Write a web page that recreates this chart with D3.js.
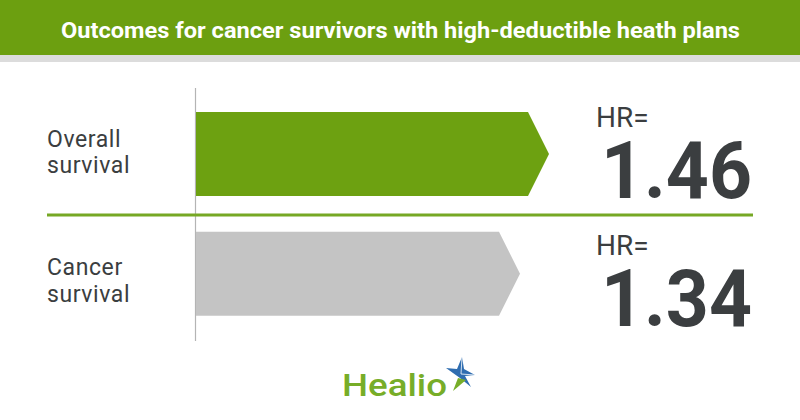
<!DOCTYPE html>
<html>
<head>
<meta charset="utf-8">
<script src="https://cdn.jsdelivr.net/npm/d3@7"></script>
<style>
  html, body { margin: 0; padding: 0; background: #fff; }
  svg { display: block; }
</style>
</head>
<body>
<div id="chart"></div>
<script>
// Chart data
const categories = ["Overall survival", "Cancer survival"];
const labelLines = [["Overall", "survival"], ["Cancer", "survival"]];
const hrValues = [1.46, 1.34];
const hrLabels = ["1.46", "1.34"];
const barColors = ["#6da111", "#c4c4c4"];

const W = 800, H = 420;
const svg = d3.select("#chart").append("svg")
  .attr("width", W)
  .attr("height", H);

// Header band
svg.append("rect").attr("x", 0).attr("y", 0).attr("width", W).attr("height", 55)
  .attr("fill", "#6c9f10");
svg.append("rect").attr("x", 0).attr("y", 55).attr("width", W).attr("height", 7)
  .attr("fill", "#dcdcdc");
svg.append("text")
  .attr("x", 61).attr("y", 37.5)
  .attr("textLength", 679).attr("lengthAdjust", "spacingAndGlyphs")
  .attr("font-family", "Roboto, sans-serif")
  .attr("font-weight", "bold")
  .attr("font-size", 21.5)
  .attr("fill", "#fff")
  .text("Outcomes for cancer survivors with high-deductible heath plans");

// Scales
const x = d3.scaleLinear().domain([0, 1.46]).range([196, 549]);
const y = d3.scaleBand().domain(categories).range([94.04, 333.64]).paddingInner(0.298).paddingOuter(0.15);
// text rows sit slightly offset from the bars
const row = d3.scalePoint().domain(categories).range([0, 128.5]);
const tip = 21;

// Vertical baseline
svg.append("line")
  .attr("x1", x(0) - 0.5).attr("x2", x(0) - 0.5)
  .attr("y1", 88).attr("y2", 341)
  .attr("stroke", "#b4b4b4").attr("stroke-width", 1.2);

// Arrow bars
svg.selectAll(".bar").data(categories).join("path")
  .attr("class", "bar")
  .attr("fill", (d, i) => barColors[i])
  .attr("d", (d, i) => {
    const x0 = x(0), x1 = x(hrValues[i]), y0 = y(d), h = y.bandwidth();
    return `M${x0},${y0}L${x1 - tip},${y0}L${x1},${y0 + h / 2}L${x1 - tip},${y0 + h}L${x0},${y0 + h}Z`;
  });

// Divider between rows
svg.append("line")
  .attr("x1", 47).attr("x2", 753)
  .attr("y1", 215).attr("y2", 215)
  .attr("stroke", "#76a824").attr("stroke-width", 3);

// Row labels
const lbl = svg.selectAll(".lbl").data(categories).join("text")
  .attr("class", "lbl")
  .attr("font-family", "Roboto, sans-serif")
  .attr("font-size", 23)
  .attr("letter-spacing", 0.6)
  .attr("fill", "#3b3e40");
lbl.selectAll("tspan").data((d, i) => labelLines[i].map(t => ({t, d}))).join("tspan")
  .attr("x", 47)
  .attr("y", (p, j) => 146.7 + row(p.d) + j * 26.7)
  .text(p => p.t);

// HR annotations
svg.selectAll(".hr").data(categories).join("text")
  .attr("class", "hr")
  .attr("x", 596)
  .attr("y", d => 126.7 + row(d))
  .attr("font-family", "Roboto, sans-serif")
  .attr("font-size", 28)
  .attr("fill", "#3b3e40")
  .text("HR=");
svg.selectAll(".hrv").data(categories).join("text")
  .attr("class", "hrv")
  .attr("x", 601)
  .attr("y", d => 197.8 + row(d))
  .attr("textLength", 151).attr("lengthAdjust", "spacingAndGlyphs")
  .attr("font-family", "Roboto, sans-serif")
  .attr("font-weight", "bold")
  .attr("font-size", 80)
  .attr("fill", "#3b3e40")
  .text((d, i) => hrLabels[i]);

// Healio logo
svg.append("text")
  .attr("x", 342).attr("y", 395.5)
  .attr("textLength", 105).attr("lengthAdjust", "spacingAndGlyphs")
  .attr("font-family", "Roboto, sans-serif")
  .attr("font-weight", 500)
  .attr("font-size", 31)
  .attr("fill", "#77ad28")
  .text("Healio");
const star = svg.append("g");
star.append("path")
  .attr("d", "M446,368 L457,369 L462,357 L464,369 L475,375 L465,376 L471,387 L460,378 Z")
  .attr("fill", "#2f6db0");
star.append("path")
  .attr("d", "M458,378 L453,391 L466,380 Z")
  .attr("fill", "#77ad28");
star.append("path")
  .attr("d", "M462,357 L461,374 M475,375 L461,374")
  .attr("stroke", "#fff").attr("stroke-width", 0.8);
</script>
</body>
</html>
